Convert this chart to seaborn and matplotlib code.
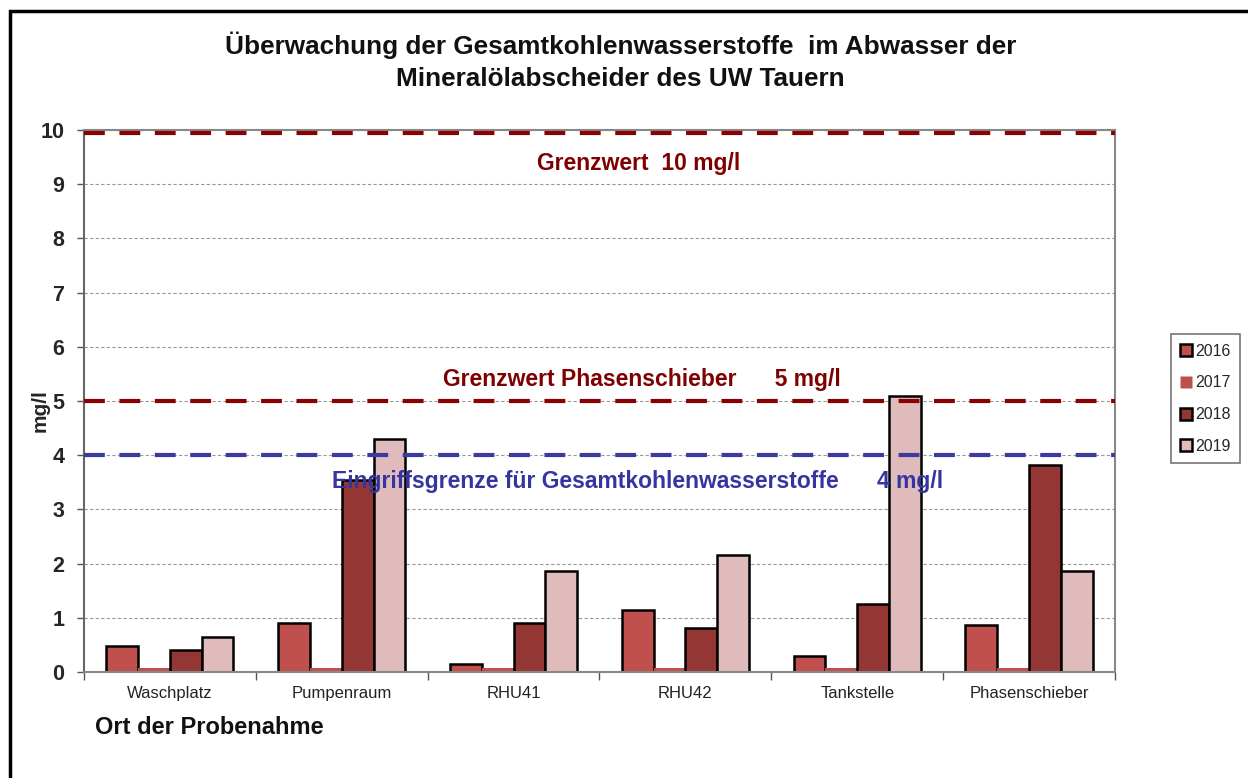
import matplotlib
matplotlib.use("Agg")
import matplotlib.pyplot as plt
import seaborn as sns
import pandas as pd
from matplotlib.lines import Line2D
from matplotlib.patches import Rectangle

categories = ["Waschplatz", "Pumpenraum", "RHU41", "RHU42", "Tankstelle", "Phasenschieber"]
years = ["2016", "2017", "2018", "2019"]
v2016 = [0.48, 0.90, 0.15, 1.15, 0.30, 0.87]
v2017 = [0.07, 0.07, 0.07, 0.07, 0.07, 0.07]
v2018 = [0.40, 3.55, 0.90, 0.82, 1.25, 3.82]
v2019 = [0.65, 4.30, 1.87, 2.15, 5.10, 1.87]
yticks = list(range(0, 11))

colors = {"2016": "#C0504D", "2017": "#C0504D", "2018": "#943634", "2019": "#E0BBBB"}

rows = []
for yr, vals in zip(years, [v2016, v2017, v2018, v2019]):
    for c, v in zip(categories, vals):
        rows.append({"Ort": c, "Jahr": yr, "Wert": v})
df = pd.DataFrame(rows)

sns.set_theme(style="white")
plt.rcParams["font.family"] = ["Liberation Sans", "DejaVu Sans"]

fig = plt.figure(figsize=(12.48, 7.78), dpi=100)
ax = fig.add_axes([0.0673, 0.1362, 0.8261, 0.6967])

sns.barplot(data=df, x="Ort", y="Wert", hue="Jahr", order=categories, hue_order=years,
            palette=colors, width=0.74, gap=0, edgecolor="black", linewidth=1.8,
            saturation=1, ax=ax, legend=False, zorder=2)
# 2017 bars without outline
for bar in ax.containers[1]:
    bar.set_edgecolor("none")
    bar.set_linewidth(0)

ax.set_ylim(0, 10)
ax.set_xlim(-0.5, len(categories) - 0.5)
ax.set_yticks(yticks)
ax.set_yticklabels([str(t) for t in yticks], fontsize=15.5, fontweight="bold")
ax.tick_params(axis="y", length=5, width=1, color="#555555", pad=9, direction="out", left=True)
ax.tick_params(axis="x", length=0, labelsize=12, pad=10, colors="#222222")
# category boundary ticks
ax.set_xticks([i - 0.5 for i in range(len(categories) + 1)], minor=True)
ax.tick_params(axis="x", which="minor", length=6, width=1, color="#555555", bottom=True)

ax.yaxis.grid(True, linestyle=(0, (3, 2)), color="#999999", linewidth=0.8)
ax.set_axisbelow(True)
for s in ["left", "bottom", "right", "top"]:
    ax.spines[s].set_color("#888888")
    ax.spines[s].set_linewidth(1.5)
ax.spines["left"].set_color("#666666")

ax.set_xlabel("")
ax.set_ylabel("mg/l", fontsize=15, fontweight="bold")
ax.yaxis.set_label_coords(-0.033, 0.483)

# limit lines
ax.axhline(9.95, color="#8B0000", linestyle=(0, (5, 3.5)), linewidth=3, zorder=4)
ax.axhline(5.0, color="#8B0000", linestyle=(0, (5, 3.5)), linewidth=3, zorder=4)
ax.axhline(4.0, color="#3A3AA0", linestyle=(0, (5, 3.5)), linewidth=3, zorder=4)

ax.text(0.538, 0.939, "Grenzwert  10 mg/l", transform=ax.transAxes,
        ha="center", va="center", fontsize=16.5, fontweight="bold", color="#7F0000", zorder=5)
ax.text(0.541, 0.5395, "Grenzwert Phasenschieber      5 mg/l", transform=ax.transAxes,
        ha="center", va="center", fontsize=16.5, fontweight="bold", color="#7F0000", zorder=5)
ax.text(0.537, 0.351, "Eingriffsgrenze für Gesamtkohlenwasserstoffe      4 mg/l", transform=ax.transAxes,
        ha="center", va="center", fontsize=16.5, fontweight="bold", color="#3535A0", zorder=5)

fig.text(0.497, 0.942, "Überwachung der Gesamtkohlenwasserstoffe  im Abwasser der",
         ha="center", va="center", fontsize=18.8, fontweight="bold", color="#111111")
fig.text(0.497, 0.899, "Mineralölabscheider des UW Tauern",
         ha="center", va="center", fontsize=18.8, fontweight="bold", color="#111111")
fig.text(95 / 1248, 1 - 727 / 778, "Ort der Probenahme", ha="left", va="center",
         fontsize=17, fontweight="bold", color="#111111")

handles = []
for yr in years:
    ec = "none" if yr == "2017" else "black"
    handles.append(Line2D([], [], marker="s", linestyle="none", markersize=8,
                          markerfacecolor=colors[yr], markeredgecolor=ec, markeredgewidth=1.8))
leg = fig.legend(handles, years, loc="upper left", bbox_to_anchor=(1171 / 1248, 1 - 334 / 778),
                 frameon=True, fontsize=11.5, handlelength=0.7, handletextpad=0.2,
                 labelspacing=1.05, borderpad=0.6, fancybox=False, edgecolor="#555555",
                 borderaxespad=0)
leg.get_frame().set_linewidth(1.2)

# figure frame (clipped at right and bottom in reference)
fig.patches.append(Rectangle((10 / 1248, -0.05), 1.1, 1 - 11 / 778 + 0.05, transform=fig.transFigure,
                             fill=False, edgecolor="black", linewidth=2.5, zorder=10))

fig.savefig("out.png", dpi=100, facecolor="white")
